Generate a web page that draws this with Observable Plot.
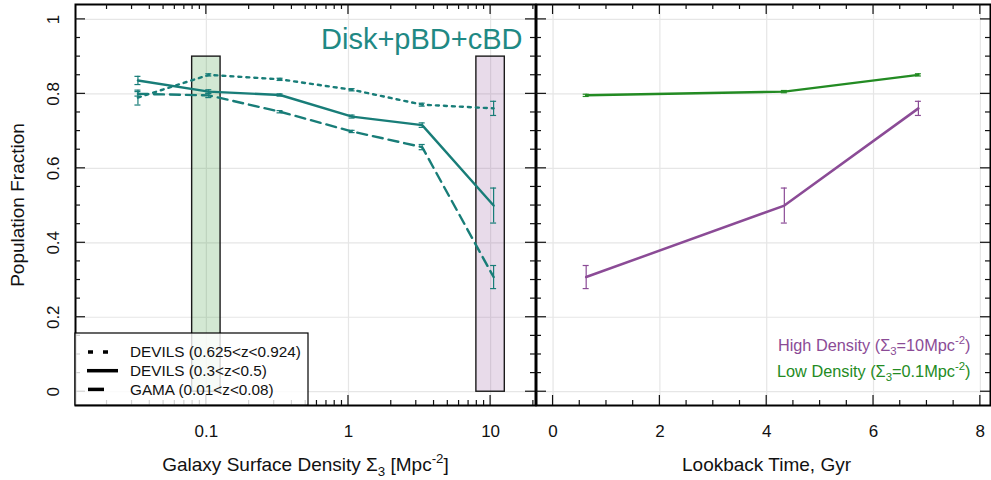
<!DOCTYPE html>
<html>
<head>
<meta charset="utf-8">
<script src="https://cdn.jsdelivr.net/npm/d3@7"></script>
<script src="https://cdn.jsdelivr.net/npm/@observablehq/plot@0.6"></script>
<style>
  body { margin: 0; background: #fff; }
  #chart { position: relative; width: 991px; height: 480px; overflow: hidden; background: #fff; }
  #chart svg { position: absolute; top: 0; overflow: visible; }
</style>
</head>
<body>
<div id="chart"></div>
<script>
// Population fraction of Disk+pBD+cBD galaxies vs. environment and lookback time.

// Surface-density bins, Σ3 in Mpc^-2
const sigma = [0.033, 0.104, 0.33, 1.06, 3.3, 10.5];

// DEVILS 0.625<z<0.924
const devilsHighZ = [0.790, 0.851, 0.839, 0.811, 0.771, 0.761];
const devilsHighZErr = [0.020, 0.003, 0.003, 0.003, 0.004, 0.019];
// DEVILS 0.3<z<0.5
const devilsLowZ = [0.836, 0.806, 0.797, 0.739, 0.716, 0.500];
const devilsLowZErr = [0.011, 0.005, 0.003, 0.004, 0.006, 0.047];
// GAMA 0.01<z<0.08
const gama = [0.800, 0.796, 0.752, 0.699, 0.657, 0.308];
const gamaErr = [0.006, 0.006, 0.003, 0.003, 0.007, 0.031];

// Lookback time (Gyr) of GAMA, DEVILS 0.3-0.5 and DEVILS 0.625-0.924
const lookback = [0.62, 4.33, 6.84];
// Fractions at Σ3 = 10 Mpc^-2 and Σ3 = 0.1 Mpc^-2 in those three samples
const highDensity = [0.308, 0.500, 0.761];
const highDensityErr = [0.031, 0.047, 0.019];
const lowDensity = [0.796, 0.806, 0.851];
const lowDensityErr = [0.003, 0.003, 0.003];

// Highlighted density bands (centre Σ3, half-width 0.1 dex) and their height
const bandCentres = [0.1, 10];
const bandTop = 0.9;

// Tick values and labels
const yTicks = [0, 0.2, 0.4, 0.6, 0.8, 1];
const yTickLabels = ["0", "0.2", "0.4", "0.6", "0.8", "1"];
const sigmaTicks = [0.1, 1, 10];
const sigmaTickLabels = ["0.1", "1", "10"];
const timeTicks = [0, 2, 4, 6, 8];
const timeTickLabels = ["0", "2", "4", "6", "8"];

const legendLabels = ["DEVILS (0.625<z<0.924)", "DEVILS (0.3<z<0.5)", "GAMA (0.01<z<0.08)"];
const densityLabels = ["High Density (Σ_3=10Mpc^-2)", "Low Density (Σ_3=0.1Mpc^-2)"];

// ---- styling ----
const FONT = "'Liberation Sans', Arial, Helvetica, sans-serif";
const TEAL = "#187d78";
const GREEN = "#238b23";
const PURPLE = "#8b4b96";
const GRID = "#e6e6e6";
const dashes = ["3,5", null, "10,6"];

const yDomain = [-0.037, 1.04];
const H = 480, MT = 4, MB = 75;
const MAJOR = 10, MINOR = 5;

// minor tick positions
const yMinor = d3.range(0, 1.0001, 0.05).filter(v => Math.abs(v * 5 - Math.round(v * 5)) > 1e-6);
const sigmaMinor = [];
for (const dec of [0.01, 0.1, 1, 10]) for (let k = 2; k <= 9; k++) {
  const v = dec * k;
  if (v > 0.012 && v < 20.7) sigmaMinor.push(v);
}
const timeMinor = d3.range(0.5, 8, 0.5).filter(v => v % 2 !== 0);

const rows = (x, y, err) => x.map((xi, i) => ({x: xi, y: y[i], lo: y[i] - err[i], hi: y[i] + err[i]}));

function errorMarks(data, color) {
  return [
    Plot.ruleX(data, {x: "x", y1: "lo", y2: "hi", stroke: color, strokeWidth: 1.2}),
    Plot.ruleY(data, {y: "lo", x1: "x", x2: "x", insetLeft: -3, insetRight: -3, stroke: color, strokeWidth: 1.2}),
    Plot.ruleY(data, {y: "hi", x1: "x", x2: "x", insetLeft: -3, insetRight: -3, stroke: color, strokeWidth: 1.2})
  ];
}

// inward ticks on all four sides of a panel, placed with the plot's own scales
function frameTicks(plot, xMajor, xMinor) {
  const sx = plot.scale("x"), sy = plot.scale("y");
  const [xl, xr] = sx.range;
  const [yb, yt] = sy.range;
  const g = d3.select(plot).append("g").attr("stroke", "#111").attr("stroke-width", 1.2);
  for (const [vals, len] of [[yTicks, MAJOR], [yMinor, MINOR]]) {
    for (const v of vals) {
      const y = sy.apply(v);
      g.append("line").attr("x1", xl).attr("x2", xl + len).attr("y1", y).attr("y2", y);
      g.append("line").attr("x1", xr).attr("x2", xr - len).attr("y1", y).attr("y2", y);
    }
  }
  for (const [vals, len] of [[xMajor, MAJOR], [xMinor, MINOR]]) {
    for (const v of vals) {
      const x = sx.apply(v);
      g.append("line").attr("x1", x).attr("x2", x).attr("y1", yt).attr("y2", yt + len);
      g.append("line").attr("x1", x).attr("x2", x).attr("y1", yb).attr("y2", yb - len);
    }
  }
}

// turn "_3" into a subscript and "^-2" into a superscript
function richText(svg) {
  const ns = "http://www.w3.org/2000/svg";
  svg.querySelectorAll("text").forEach(t => {
    const targets = t.querySelector("tspan") ? [...t.querySelectorAll("tspan")] : [t];
    targets.forEach(el => {
      const s = el.textContent;
      if (!/[_^]/.test(s)) return;
      const fs = parseFloat(getComputedStyle(t).fontSize) || 16;
      el.textContent = "";
      let shift = 0;
      s.split(/(_[0-9]+|\^-?[0-9]+)/).filter(p => p).forEach(p => {
        const ts = document.createElementNS(ns, "tspan");
        let target = 0, txt = p, small = false;
        if (p[0] === "_") { target = 0.28 * fs; txt = p.slice(1); small = true; }
        else if (p[0] === "^") { target = -0.42 * fs; txt = p.slice(1); small = true; }
        if (target !== shift) ts.setAttribute("dy", (target - shift).toFixed(2));
        shift = target;
        if (small) ts.setAttribute("font-size", (0.7 * fs).toFixed(1));
        ts.textContent = txt;
        el.appendChild(ts);
      });
    });
  });
}

const baseStyle = {fontFamily: FONT, fontSize: "17px", background: "transparent", color: "#111", overflow: "visible"};

// ---- left panel: fraction vs. surface density ----
const LW = 536, LML = 75, LMR = 1;
const sets = [
  rows(sigma, devilsHighZ, devilsHighZErr),
  rows(sigma, devilsLowZ, devilsLowZErr),
  rows(sigma, gama, gamaErr)
];
const bandColors = [GREEN, PURPLE];

const left = Plot.plot({
  width: LW, height: H,
  marginLeft: LML, marginRight: LMR, marginTop: MT, marginBottom: MB,
  x: {type: "log", domain: [0.012, 20.7], axis: null},
  y: {domain: yDomain, axis: null},
  style: baseStyle,
  marks: [
    Plot.gridY(yTicks, {stroke: GRID, strokeOpacity: 1, strokeWidth: 1.2}),
    Plot.gridX(sigmaTicks, {stroke: GRID, strokeOpacity: 1, strokeWidth: 1.2}),
    ...bandCentres.map((c, i) => Plot.rect([c], {
      x1: d => d / 10 ** 0.1, x2: d => d * 10 ** 0.1, y1: () => 0, y2: () => bandTop,
      fill: bandColors[i], fillOpacity: 0.2, stroke: "#1a1a1a", strokeWidth: 1.4
    })),
    ...sets.map((data, i) => Plot.line(data, {x: "x", y: "y", stroke: TEAL, strokeWidth: 2.4, strokeDasharray: dashes[i]})),
    ...sets.flatMap(data => errorMarks(data, TEAL)),
    Plot.frame({stroke: "#000", strokeWidth: 2}),
    Plot.text(sigmaTicks, {x: d => d, text: (d, i) => sigmaTickLabels[i], frameAnchor: "bottom", lineAnchor: "bottom", dy: 31, fontSize: 17, fill: "#111"}),
    Plot.text(yTicks, {y: d => d, text: (d, i) => yTickLabels[i], frameAnchor: "left", rotate: -90, textAnchor: "middle", lineAnchor: "middle", dx: -22, fontSize: 17, fill: "#111"}),
    Plot.text(["Galaxy Surface Density Σ_3 [Mpc^-2]"], {text: d => d, frameAnchor: "bottom", lineAnchor: "bottom", dy: 65, fontSize: 19, fill: "#111"}),
    Plot.text(["Population Fraction"], {text: d => d, frameAnchor: "left", rotate: -90, textAnchor: "middle", lineAnchor: "middle", dx: -58, fontSize: 19, fill: "#111"}),
    Plot.text(["Disk+pBD+cBD"], {text: d => d, frameAnchor: "top-right", textAnchor: "end", lineAnchor: "bottom", dx: -13, dy: 44, fontSize: 29, fill: "#1f8984"})
  ]
});

// ---- right panel: fraction vs. lookback time ----
const RW = 461, RML = 6, RMR = 1;
const high = rows(lookback, highDensity, highDensityErr);
const low = rows(lookback, lowDensity, lowDensityErr);
const labelColors = [PURPLE, GREEN];
const labelOffsets = [-55, -29];

const right = Plot.plot({
  width: RW, height: H,
  marginLeft: RML, marginRight: RMR, marginTop: MT, marginBottom: MB,
  x: {domain: [-0.31, 8.19], axis: null},
  y: {domain: yDomain, axis: null},
  style: baseStyle,
  marks: [
    Plot.gridY(yTicks, {stroke: GRID, strokeOpacity: 1, strokeWidth: 1.2}),
    Plot.gridX(timeTicks, {stroke: GRID, strokeOpacity: 1, strokeWidth: 1.2}),
    Plot.line(low, {x: "x", y: "y", stroke: GREEN, strokeWidth: 2.5}),
    Plot.line(high, {x: "x", y: "y", stroke: PURPLE, strokeWidth: 2.5}),
    ...errorMarks(low, GREEN),
    ...errorMarks(high, PURPLE),
    Plot.frame({stroke: "#000", strokeWidth: 2}),
    Plot.text(timeTicks, {x: d => d, text: (d, i) => timeTickLabels[i], frameAnchor: "bottom", lineAnchor: "bottom", dy: 31, fontSize: 17, fill: "#111"}),
    Plot.text(["Lookback Time, Gyr"], {text: d => d, frameAnchor: "bottom", lineAnchor: "bottom", dx: 3, dy: 65, fontSize: 19, fill: "#111"}),
    ...densityLabels.map((label, i) => Plot.text([label], {text: d => d, frameAnchor: "bottom-right", textAnchor: "end", lineAnchor: "bottom",
      dx: -20, dy: labelOffsets[i], fontSize: 16.3, fill: labelColors[i]}))
  ]
});

const chart = document.getElementById("chart");
left.style.left = "0px";
right.style.left = (536 - RML) + "px";
chart.appendChild(left);
chart.appendChild(right);

frameTicks(left, sigmaTicks, sigmaMinor);
frameTicks(right, timeTicks, timeMinor);

// legend for the three samples
{
  const g = d3.select(left).append("g").attr("font-family", FONT).attr("text-anchor", "start");
  g.append("rect").attr("x", LML).attr("y", 333).attr("width", 233).attr("height", H - MB - 333)
    .attr("fill", "#fff").attr("fill-opacity", 0.82).attr("stroke", "#000").attr("stroke-width", 1.2);
  const swatches = [[88, 108, "5,10"], [87, 118, null], [88, 104, null]];
  legendLabels.forEach((label, i) => {
    const yc = 352 + i * 18.7;
    const [x1, x2, da] = swatches[i];
    g.append("line").attr("x1", x1).attr("x2", x2).attr("y1", yc).attr("y2", yc)
      .attr("stroke", "#000").attr("stroke-width", 3.5).attr("stroke-dasharray", da);
    g.append("text").attr("x", 130).attr("y", yc + 5.3).attr("font-size", 15.3).attr("fill", "#111")
      .attr("text-anchor", "start").text(label);
  });
}

richText(left);
richText(right);
</script>
</body>
</html>
